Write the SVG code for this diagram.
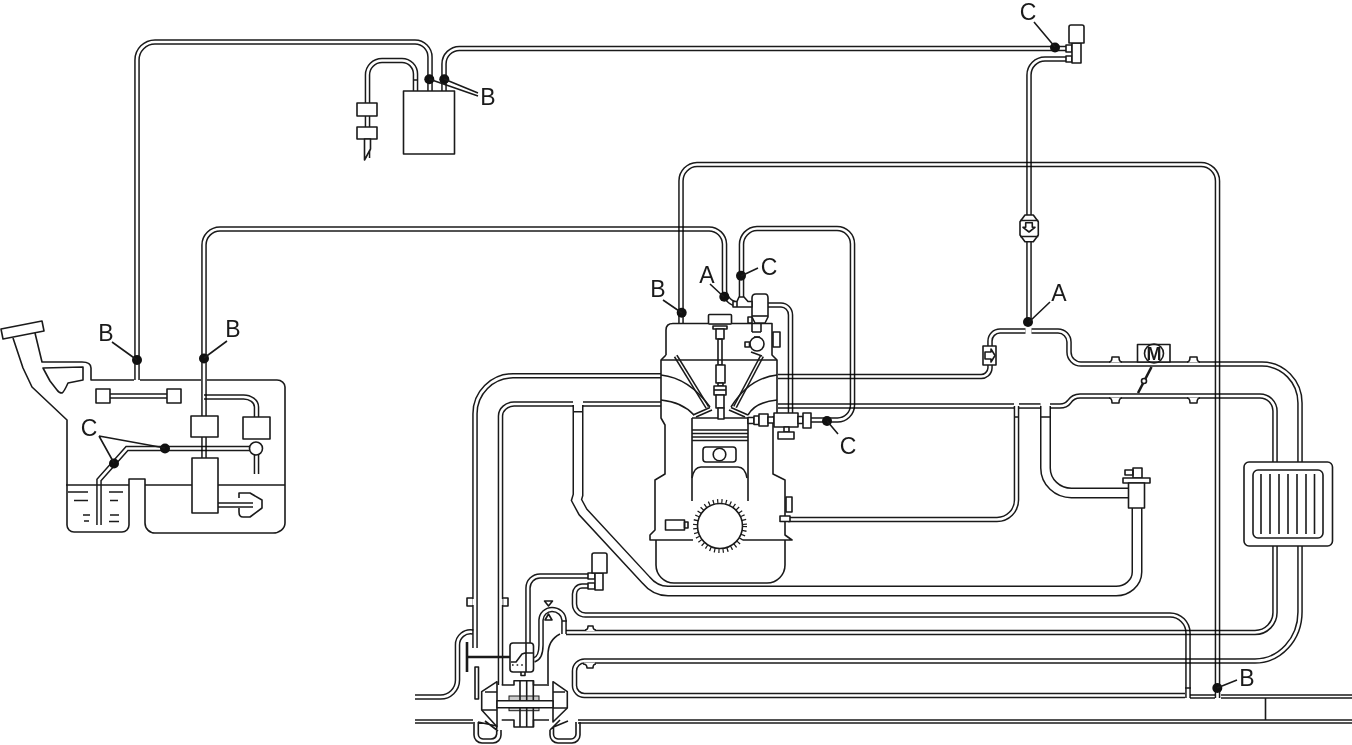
<svg xmlns="http://www.w3.org/2000/svg" width="1352" height="745" viewBox="0 0 1352 745">
<style>
.p{mix-blend-mode:multiply}
.o,.i{fill:none}
.o{stroke:#1a1a1a;stroke-width:5.6}
.i{stroke:#fff;stroke-width:2.6}
.w .o{stroke-width:11}.w .i{stroke-width:8}
.n .o{stroke-width:4.4}.n .i{stroke-width:1.4}
.l,.b{stroke:#1a1a1a;stroke-width:1.6;fill:none;stroke-linejoin:round}
.b{fill:#fff}
.k{fill:#111;stroke:none}
.t{stroke:#1a1a1a;stroke-width:2.6;fill:none}
.x{stroke:#fff;stroke-width:2.2;fill:none}
text{font-family:"Liberation Sans",Arial,sans-serif;font-size:23px;fill:#1a1a1a;text-anchor:middle}
</style>
<defs>
<path id="a1" d="M137,380V60A18,18 0 0 1 155,42H415A15,15 0 0 1 430,57V91"/>
<path id="a2" d="M444,91V64A15.500,15.500 0 0 1 460,48.500H1067"/>
<path id="a3" d="M1072,59H1045A16,16 0 0 0 1029,75V322"/>
<path id="a4" d="M367.500,158V75A14.500,14.500 0 0 1 382,60.500H402A13.500,13.500 0 0 1 415.500,74V91"/>
<path id="a5" d="M204,416V245A16,16 0 0 1 220,229H709A15.500,15.500 0 0 1 724.500,244V290A14,14 0 0 0 738,304H752"/>
<path id="a6" d="M681,323V181A16.500,16.500 0 0 1 697,164.500H1201A16.500,16.500 0 0 1 1217.500,181V698"/>
<path id="a7" d="M741.500,300V245A16,16 0 0 1 757,228.500H837A15.500,15.500 0 0 1 852.500,244V405A15,15 0 0 1 837,420H810"/>
<path id="a8" d="M768,305H781A9.500,10 0 0 1 790.500,315V413"/>
<path id="a9" d="M1025.500,331H1000A10,10 0 0 0 990,341V346M990,365V368A9,9 0 0 1 980,376.500H778"/>
<path id="a10" d="M1031.500,331H1058A11,11 0 0 1 1069,342V352A12,12 0 0 0 1081,364H1262A38,39 0 0 1 1300,403V462"/>
<path id="a11" d="M1050,406H1060Q1066,406 1069,402Q1073,396 1080,396H1260A15,15 0 0 1 1275,411V462"/>
<path id="a12" d="M1040.500,406H1019"/>
<path id="a13" d="M1014,406H778"/>
<path id="a14" d="M1016.500,406V500A19.500,19.500 0 0 1 997,519.500H788"/>
<path id="a15" d="M1045.500,406V468A26,25 0 0 0 1072,493H1128"/>
<path id="a16" d="M1137,508V572A21,19 0 0 1 1115,591H668Q655,591 646,580L583,512L576.500,500L578,495V405"/>
<path id="a17" d="M661,375.800H513A38,38 0 0 0 475,414V648"/>
<path id="a18" d="M661,404H583M573,404H514A14,12 0 0 0 500.500,416V685"/>
<path id="a19" d="M588,586H582A7.500,8 0 0 0 574.500,594V604A11,11 0 0 0 586,615H1170A18,18 0 0 1 1188,633V698"/>
<path id="a20" d="M566,632.500H1255A20,20 0 0 0 1275,612V546"/>
<path id="a21" d="M1300,546V612A45,49 0 0 1 1255,661H585A10,10 0 0 0 574.500,671V685A10,10 0 0 0 585,695.500H1185"/>
<path id="a22" d="M588,576H540A12,12 0 0 0 528,588V643"/>
<path id="a23" d="M534,660Q541,658 541,645V620A11,11 0 0 1 552,609.500A12,11 0 0 1 564,620V634"/>
<path id="a24" d="M415,697H440A17,17 0 0 0 457.500,680V645A13,13 0 0 1 473,632"/>
<path id="a26" d="M1190,696.500H1215M1221,696.500H1352"/>
<path id="a27" d="M415,721.500H473M578,721.500H1352"/>
<path id="a28" d="M137,396H110M137,396H167"/>
<path id="a29" d="M204,397H243A13,10 0 0 1 256.500,407V417"/>
<path id="a30" d="M250,448.500H127L99,480V525"/>
<path id="a31" d="M218,505H253"/>
<path id="a32" d="M204,437V458"/>
<path id="a33" d="M256.500,454V474"/>
<path id="a34" d="M675.700,356L707.300,407.300"/>
<path id="a35" d="M762,356L735,407"/>
</defs>
<rect width="1352" height="745" fill="#fff"/>
<g id="connectors">
<g class="p"><use href="#a1" class="o"/><use href="#a1" class="i"/></g>
<g class="p"><use href="#a2" class="o"/><use href="#a2" class="i"/></g>
<g class="p"><use href="#a3" class="o"/><use href="#a3" class="i"/></g>
<g class="p"><use href="#a4" class="o"/><use href="#a4" class="i"/></g>
<g class="p"><use href="#a5" class="o"/><use href="#a5" class="i"/></g>
<g class="p"><use href="#a6" class="o"/><use href="#a6" class="i"/></g>
<g class="p"><use href="#a7" class="o"/><use href="#a7" class="i"/></g>
<g class="p"><use href="#a8" class="o"/><use href="#a8" class="i"/></g>
<g class="p"><use href="#a9" class="o"/><use href="#a9" class="i"/></g>
<g class="p"><use href="#a10" class="o"/><use href="#a10" class="i"/></g>
<g class="p"><use href="#a11" class="o"/><use href="#a11" class="i"/></g>
<g class="p"><use href="#a12" class="o"/><use href="#a12" class="i"/></g>
<g class="p"><use href="#a13" class="o"/><use href="#a13" class="i"/></g>
<g class="p"><use href="#a14" class="o"/><use href="#a14" class="i"/></g>
<g class="p w"><use href="#a15" class="o"/><use href="#a15" class="i"/></g>
<g class="p w"><use href="#a16" class="o"/><use href="#a16" class="i"/></g>
<g class="p"><use href="#a17" class="o"/><use href="#a17" class="i"/></g>
<g class="p"><use href="#a18" class="o"/><use href="#a18" class="i"/></g>
<g class="p"><use href="#a19" class="o"/><use href="#a19" class="i"/></g>
<g class="p"><use href="#a20" class="o"/><use href="#a20" class="i"/></g>
<g class="p"><use href="#a21" class="o"/><use href="#a21" class="i"/></g>
<g class="p"><use href="#a22" class="o"/><use href="#a22" class="i"/></g>
<g class="p"><use href="#a23" class="o"/><use href="#a23" class="i"/></g>
<g class="p"><use href="#a24" class="o"/><use href="#a24" class="i"/></g>
<g class="p n"><use href="#a26" class="o"/><use href="#a26" class="i"/></g>
<g class="p n"><use href="#a27" class="o"/><use href="#a27" class="i"/></g>
<g class="p"><use href="#a28" class="o"/><use href="#a28" class="i"/></g>
<g class="p"><use href="#a29" class="o"/><use href="#a29" class="i"/></g>
<g class="p"><use href="#a30" class="o"/><use href="#a30" class="i"/></g>
<g class="p"><use href="#a31" class="o"/><use href="#a31" class="i"/></g>
<g class="p"><use href="#a32" class="o"/><use href="#a32" class="i"/></g>
<g class="p"><use href="#a33" class="o"/><use href="#a33" class="i"/></g>
<g class="p n"><use href="#a34" class="o"/><use href="#a34" class="i"/></g>
<g class="p n"><use href="#a35" class="o"/><use href="#a35" class="i"/></g>
<path class="l" d="M413,80H418M1014,417H1019M1041,417H1051M573,411.700H583M1185,688H1191M562,621H567M1265.500,698V720"/>
<rect class="l" x="475" y="667" width="3.500" height="32"/>
<path class="x" d="M1110,361.500H1121M1188,361.500H1199M1110,398.500H1121M1188,398.500H1199M586,630H595M584,663.500H595M473.500,599V605M501.500,599V605"/>
<path class="l" d="M1109,362Q1112,362 1112,357H1119Q1119,362 1122,362M1187,362Q1190,362 1190,357H1197Q1197,362 1200,362M1109,398Q1112,398 1112,403H1119Q1119,398 1122,398M1187,398Q1190,398 1190,403H1197Q1197,398 1200,398"/>
<path class="l" d="M585,630Q588,630 588,626H593Q593,630 596,630M583,664Q587,664 587,668H593Q593,664 596,664M473,598H467V606H473M502,598H508V606H502"/>
</g>
<g id="fuel-tank">
<path class="l" d="M13,338L23,368L32,387L67,420V525A7,7 0 0 0 74,532H122A7,7 0 0 0 129,525V479H145V523A10,10 0 0 0 155,533H273A12,10 0 0 0 285,523V387A8,7 0 0 0 277,380H207M201,380H140M134,380H91V368Q91,362 82,362H42L35,333"/>
<path class="b" d="M1,329L42,321L44,331L3,339Z"/>
<path class="l" d="M66,485H129M145,485H285"/>
<path class="l" d="M43,368L83,367V380L68,383Q64,392 62,393Q59,393 57,390L50,381Z"/>
<path class="l" d="M68,492H88M74,500.500H88M83,515H90M84,521H89M109,492H123M110,500.500H118M110,515H119M109,521.500H119"/>
<rect class="b" x="96" y="389" width="14" height="14"/>
<rect class="b" x="167" y="389" width="14" height="14"/>
<rect class="b" x="191" y="416" width="27" height="21"/>
<rect class="b" x="192" y="458" width="26" height="55"/>
<rect class="b" x="243" y="417" width="27" height="22"/>
<circle class="b" cx="256" cy="448.500" r="6.500"/>
<path class="l" d="M239,498V493H250L262,500V508L250,517H243Q239,517 239,512V508"/>
</g>
<g id="canister">
<rect class="b" x="403.500" y="91" width="51" height="63"/>
<rect class="b" x="357" y="103" width="20" height="13"/>
<rect class="b" x="357" y="127" width="20" height="12"/>
<path class="b" d="M364.500,139V160L370.500,149V139Z"/>
</g>
<g id="solenoid-top">
<rect class="b" x="1066" y="45" width="6" height="7"/>
<rect class="b" x="1066" y="56" width="6" height="6"/>
<rect class="b" x="1072" y="43" width="9" height="20"/>
<path class="b" d="M1069,27Q1069,25 1071,25H1082Q1084,25 1084,27V43H1069Z"/>
</g>
<g id="check-valve">
<path class="b" d="M1025,215H1033.300L1038.300,221.700V235L1033.300,241.700H1025L1020,235V221.700Z"/>
<path class="l" d="M1020,220.500H1038.300M1020,236.500H1038.300"/>
<path class="l" d="M1025.700,222.700H1032.300V227.300H1035L1029,232L1023,227.300H1025.700Z"/>
</g>
<g id="arrow-valve">
<rect class="b" x="983" y="346" width="13" height="19"/>
<path class="l" d="M985,352H991V349L995,355.500L991,362V359H985Z"/>
</g>
<g id="throttle">
<rect class="b" x="1137.500" y="344.500" width="32.500" height="17.500"/>
<circle class="l" cx="1154" cy="353.500" r="9.500"/>
<text x="1154" y="360" style="font-size:18px;font-weight:bold">M</text>
<path class="t" d="M1151.500,367L1138,393"/>
<circle class="b" cx="1144" cy="381" r="2.500"/>
</g>
<g id="air-cleaner">
<rect class="b" x="1244" y="462" width="88.500" height="84" rx="5"/>
<rect class="l" x="1253" y="470" width="70" height="68" rx="5"/>
<path class="l" d="M1261,474V534M1270,474V534M1279,474V534M1288,474V534M1297,474V534M1306,474V534M1314.500,474V534"/>
</g>
<g id="afm">
<rect class="b" x="1133" y="468" width="9" height="10"/>
<rect class="l" x="1125" y="470" width="8" height="5"/>
<rect class="b" x="1123" y="478" width="27" height="5"/>
<rect class="b" x="1128.500" y="483" width="16" height="25"/>
</g>
<g id="engine">
<path class="l" d="M666,355V330Q666,323.500 673,323.500H772V355L777,360V417H773V474L785,480V535L792,540V540H743M693,540H650V535L655,530V480L665,474V425L661,418V360L666,355"/>
<path class="l" d="M661,360H777"/>
<path class="l" d="M656,540V565A18,18 0 0 0 674,583H767A18,18 0 0 0 785,565V540"/>
<path class="l" d="M692,418V501M748,418V501M692,418H748M692,430H748M692,433.500H748M692,437H748M692,440.500H748"/>
<path class="l" d="M692,478Q694,467 701,467H738Q745,467 747,478"/>
<rect class="l" x="703" y="447" width="33" height="15" rx="3"/>
<circle class="l" cx="719.500" cy="454.500" r="6.300"/>
<circle class="t" style="stroke-width:5;stroke-dasharray:1.2 3.1" cx="720" cy="526" r="24.500"/>
<circle class="b" cx="720" cy="526" r="22.500"/>
<rect class="l" x="665.500" y="520" width="19" height="10"/>
<rect class="l" x="684.500" y="522" width="3.500" height="6"/>
<rect class="l" x="786" y="497" width="6" height="15"/>
<rect class="b" x="780" y="516" width="10" height="5.500"/>
<path class="l" d="M661,375Q689,378 710,407M661,400Q682,402 694,415M777,375Q749,378 731,407M777,400Q755,402 748,415"/>
<path class="l" d="M693,415L710,407.500M696,417L712,410M748,415L731,407.500M745,417L729,410"/>
<rect class="b" x="708.500" y="314.500" width="23" height="9.500" rx="1"/>
<rect class="b" x="713" y="326" width="14" height="3"/>
<rect class="b" x="716" y="329" width="8" height="10"/>
<rect class="l" x="718" y="339" width="4" height="26"/>
<rect class="b" x="716" y="365" width="9" height="18"/>
<rect class="b" x="718" y="383" width="5" height="3"/>
<rect class="b" x="714" y="386" width="12" height="9"/>
<path class="l" d="M714,390H726"/>
<rect class="b" x="716" y="395" width="8" height="13"/>
<rect class="b" x="718" y="408" width="6" height="11"/>
<rect class="b" x="773" y="332" width="7" height="15"/>
<path class="l" d="M752,323.500V332M761,323.500V332"/>
<rect class="b" x="748" y="317" width="4" height="6"/>
<circle class="b" cx="757" cy="344" r="7"/>
<rect class="b" x="745" y="342" width="4.500" height="5"/>
<path class="l" d="M752,332H761M754,337H760M751,352L762,356"/>
</g>
<g id="purge-solenoid">
<path class="b" d="M752,298Q752,294 756,294H765Q768,294 768,298V317L765,323H755L752,317Z"/>
<path class="l" d="M752,316H768"/>
<path class="b" d="M733,301.500H737V307H733ZM737,301.500L739,297H744L748,301.500H752V307H737Z"/>
</g>
<g id="pcv-unit">
<rect class="b" x="748" y="417.500" width="6" height="6"/>
<rect class="b" x="754" y="416" width="5" height="8.500"/>
<rect class="b" x="759" y="414" width="9" height="12"/>
<rect class="b" x="768" y="417" width="6" height="6"/>
<rect class="b" x="774" y="413" width="24" height="14"/>
<rect class="b" x="798" y="416.500" width="5" height="7"/>
<rect class="b" x="803" y="413" width="8" height="15"/>
<rect class="b" x="784" y="427" width="5" height="5"/>
<rect class="b" x="778" y="432" width="16" height="7"/>
</g>
<g id="idle-unit">
<rect class="b" x="588" y="573" width="7" height="6"/>
<rect class="b" x="588" y="583" width="7" height="6"/>
<rect class="b" x="595" y="573" width="8" height="17"/>
<path class="b" d="M592,555Q592,553 594,553H605Q607,553 607,555V573H592Z"/>
<path class="l" d="M544.500,601H552.500L548.500,606Z"/>
<path class="l" d="M545,620H552L548.500,614Z"/>
<path class="l" d="M560,634Q548,640 548,655V686"/>
<rect class="b" x="510" y="643" width="23.500" height="29" rx="3"/>
<path class="l" d="M511,662H516L522,654L525,653H533M526,643V672"/>
<path class="l" d="M521,672V675.500H525V672"/>
<path class="l" stroke-dasharray="1.600 3" d="M512,665H523"/>
<path class="t" d="M467,642V672M467,657H510"/>
</g>
<g id="throttle-body">
<path class="l" d="M501.700,685H514V680.700H533.500V685H547M501.700,720H514V727H533.500V720H549"/>
<path class="b" d="M497,681.700L481.700,691.700V710L497,726.700Z"/>
<path class="b" d="M553,681.700L567.300,691.700V708L553,722Z"/>
<path class="l" d="M485,692H497M553,692H565M482,710H497M553,708H567"/>
<rect x="509" y="696" width="30" height="4.500" fill="#ccc" stroke="#1a1a1a" stroke-width="1"/>
<rect x="509" y="707.700" width="30" height="3" fill="#ccc" stroke="#1a1a1a" stroke-width="1"/>
<rect class="b" x="497" y="700.700" width="56" height="7"/>
<path class="l" d="M520,680.700V700.700M533.300,680.700V700.700M526.700,680.700V700.700M520,707.700V727M533.300,707.700V727M526.700,707.700V727"/>
<path class="l" d="M474,722V735A8,8 0 0 0 482,743H493A8,8 0 0 0 501,735V730M478.300,722V734A5,5 0 0 0 483,739H491A6,6 0 0 0 496.700,734V726L478,722M485,721L498,731"/>
<path class="l" d="M580,722V735A8,8 0 0 1 572,743H558A8,8 0 0 1 550,735V730M576,722V734A5,5 0 0 1 571,739H558A5,5 0 0 1 553.500,734V727L568,721M550,730L560,720"/>
</g>
<g id="markers">
<circle class="k" cx="137" cy="360" r="5"/>
<circle class="k" cx="204" cy="358.500" r="5"/>
<circle class="k" cx="165" cy="448.500" r="5"/>
<circle class="k" cx="114" cy="463.500" r="5"/>
<circle class="k" cx="429.300" cy="79.300" r="5"/>
<circle class="k" cx="444.300" cy="79.300" r="5"/>
<circle class="k" cx="1055" cy="47.500" r="5"/>
<circle class="k" cx="1028" cy="322" r="5"/>
<circle class="k" cx="724.300" cy="296.700" r="5"/>
<circle class="k" cx="741" cy="275.700" r="5"/>
<circle class="k" cx="681.700" cy="312.700" r="5"/>
<circle class="k" cx="827" cy="421" r="5"/>
<circle class="k" cx="1217.300" cy="688" r="5"/>
<path class="l" d="M112,342L137,360M227,341L204,358M99,436L114,463M99,436L165,448M429,79L478,96M444,79L478,93M1034,22L1055,47M1050,302L1029,322M710,284L724,297M758,268L741,276M663,300L682,313M838,434L827,421M1237,680L1217,688"/>
<text x="106" y="341">B</text>
<text x="233" y="337">B</text>
<text x="89" y="436">C</text>
<text x="488" y="105">B</text>
<text x="1028" y="20">C</text>
<text x="1059" y="301">A</text>
<text x="707" y="283">A</text>
<text x="769" y="275">C</text>
<text x="658" y="297">B</text>
<text x="848" y="454">C</text>
<text x="1247" y="686">B</text>
</g>
</svg>
